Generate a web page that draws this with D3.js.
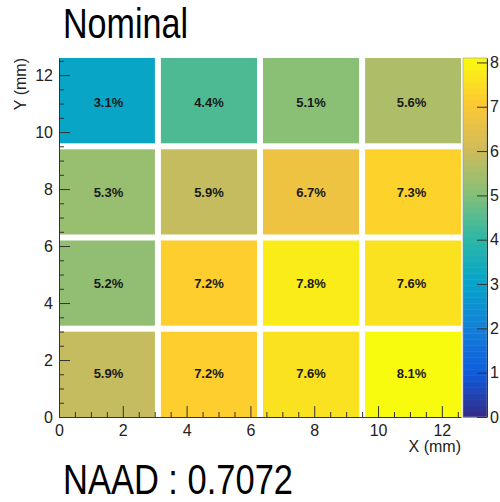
<!DOCTYPE html>
<html>
<head>
<meta charset="utf-8">
<script src="https://cdn.jsdelivr.net/npm/d3@7"></script>
<style>
  body { margin: 0; background: #fff; }
  text { font-family: "Liberation Sans", Arial, sans-serif; }
</style>
</head>
<body>
<div id="chart"></div>
<script>
// bin edges in mm
const xEdges = [0, 3.1, 6.3, 9.5, 12.6];
const yEdges = [0, 3.1, 6.3, 9.5, 12.6];
// rows from bottom to top, columns left to right (%)
const cellValues = [
    [5.9, 7.2, 7.6, 8.1],
    [5.2, 7.2, 7.8, 7.6],
    [5.3, 5.9, 6.7, 7.3],
    [3.1, 4.4, 5.1, 5.6]
];
const axisTicks = [0, 2, 4, 6, 8, 10, 12];
const colorTicks = [0, 1, 2, 3, 4, 5, 6, 7, 8];
const colorMax = 8.1;
const titleText = "Nominal";
const naadText = "NAAD : 0.7072";
const xLabel = "X (mm)";
const yLabel = "Y (mm)";

// ROOT kBird palette
const birdStops = [0.0, 0.125, 0.25, 0.375, 0.5, 0.625, 0.75, 0.875, 1.0];
const birdR = [0.2082, 0.0592, 0.0780, 0.0232, 0.1802, 0.5301, 0.8186, 0.9956, 0.9764];
const birdG = [0.1664, 0.3599, 0.5041, 0.6419, 0.7178, 0.7492, 0.7328, 0.7862, 0.9832];
const birdB = [0.5293, 0.8684, 0.8385, 0.7914, 0.6425, 0.4662, 0.3499, 0.1968, 0.0539];

function drawMap() {
    const W = 500, H = 502;
    const plot = { left: 59, right: 461, top: 58, bottom: 417 };
    const gap = 3;

    const svg = d3.select("#chart").append("svg")
        .attr("width", W)
        .attr("height", H);

    const x = d3.scaleLinear().domain([0, 12.6]).range([plot.left, plot.right]);
    const y = d3.scaleLinear().domain([0, 12.6]).range([plot.bottom, plot.top]);

    const color = d3.scaleLinear()
        .domain(birdStops.map(s => s * colorMax))
        .range(birdStops.map((s, i) => d3.rgb(birdR[i] * 255, birdG[i] * 255, birdB[i] * 255)))
        .clamp(true);

    const cells = cellValues.flatMap((row, j) => row.map((v, i) => ({
        value: v,
        x0: xEdges[i], x1: xEdges[i + 1],
        y0: yEdges[j], y1: yEdges[j + 1],
        first: i === 0, last: i === row.length - 1,
        bottom: j === 0, top: j === cellValues.length - 1
    })));

    const cell = svg.append("g").selectAll("g")
        .data(cells)
        .enter()
        .append("g");

    cell.append("rect")
        .attr("x", d => x(d.x0) + (d.first ? 0 : gap))
        .attr("width", d => x(d.x1) - x(d.x0) - (d.first ? 0 : gap) - (d.last ? 0 : gap))
        .attr("y", d => y(d.y1) + (d.top ? 0 : gap))
        .attr("height", d => y(d.y0) - y(d.y1) - (d.top ? 0 : gap) - (d.bottom ? 0 : gap))
        .attr("fill", d => color(d.value));

    cell.append("text")
        .attr("x", d => (x(d.x0) + x(d.x1)) / 2)
        .attr("y", d => (y(d.y0) + y(d.y1)) / 2)
        .attr("dy", "0.36em")
        .attr("text-anchor", "middle")
        .style("font-size", "13px")
        .style("font-weight", "bold")
        .style("fill", "#1a1a1a")
        .text(d => d.value.toFixed(1) + "%");

    // axes, ticks pointing inward
    const minorTicks = d3.range(0, 12.6, 0.5).filter(t => !axisTicks.includes(t));

    const xAxis = svg.append("g").attr("transform", `translate(0,${plot.bottom})`);
    xAxis.call(d3.axisBottom(x).tickValues(axisTicks).tickSizeInner(-11).tickSizeOuter(0).tickPadding(8));
    xAxis.append("g").call(d3.axisBottom(x).tickValues(minorTicks).tickSizeInner(-5).tickSizeOuter(0).tickFormat(""))
        .select(".domain").remove();

    const yAxis = svg.append("g").attr("transform", `translate(${plot.left},0)`);
    yAxis.call(d3.axisLeft(y).tickValues(axisTicks).tickSizeInner(-11).tickSizeOuter(0).tickPadding(6));
    yAxis.append("g").call(d3.axisLeft(y).tickValues(minorTicks).tickSizeInner(-5).tickSizeOuter(0).tickFormat(""))
        .select(".domain").remove();

    svg.selectAll(".domain").attr("stroke", "#333");
    svg.selectAll(".tick line").attr("stroke", "#333");
    svg.selectAll(".tick text")
        .style("font-family", "'Liberation Sans', Arial, sans-serif")
        .style("font-size", "16px")
        .style("fill", "#222");

    svg.append("text")
        .attr("x", plot.right)
        .attr("y", 452)
        .attr("text-anchor", "end")
        .style("font-size", "16px")
        .style("fill", "#222")
        .text(xLabel);

    svg.append("text")
        .attr("transform", `translate(26,${plot.top}) rotate(-90)`)
        .attr("text-anchor", "end")
        .style("font-size", "16px")
        .style("fill", "#222")
        .text(yLabel);

    // color bar
    const bar = { left: 463, right: 487 };
    const z = d3.scaleLinear().domain([0, colorMax]).range([plot.bottom, plot.top]);
    const bands = 60;
    const bandStep = colorMax / bands;

    svg.append("g").selectAll("rect")
        .data(d3.range(bands))
        .enter()
        .append("rect")
        .attr("x", bar.left)
        .attr("width", bar.right - bar.left)
        .attr("y", i => z((i + 1) * bandStep))
        .attr("height", i => z(i * bandStep) - z((i + 1) * bandStep) + 0.5)
        .attr("fill", i => color((i + 0.5) * bandStep));

    svg.append("rect")
        .attr("x", bar.left)
        .attr("y", plot.top)
        .attr("width", bar.right - bar.left)
        .attr("height", plot.bottom - plot.top)
        .attr("fill", "none")
        .attr("stroke", "#999")
        .attr("stroke-width", 0.6);

    const zAxis = svg.append("g").attr("transform", `translate(${bar.right},0)`);
    zAxis.call(d3.axisRight(z).tickValues(colorTicks).tickSizeInner(-10).tickSizeOuter(0).tickPadding(3));
    zAxis.select(".domain").attr("stroke", "#333");
    zAxis.selectAll(".tick line").attr("stroke", "#333");
    zAxis.selectAll(".tick text")
        .style("font-family", "'Liberation Sans', Arial, sans-serif")
        .style("font-size", "16px")
        .style("fill", "#222");

    // title and NAAD, narrow face squeezed to the reference width
    svg.append("text")
        .attr("x", 63)
        .attr("y", 38)
        .attr("textLength", 125)
        .attr("lengthAdjust", "spacingAndGlyphs")
        .style("font-size", "42px")
        .style("fill", "#000")
        .text(titleText);

    svg.append("text")
        .attr("x", 63)
        .attr("y", 494)
        .attr("textLength", 230)
        .attr("lengthAdjust", "spacingAndGlyphs")
        .style("font-size", "42px")
        .style("fill", "#000")
        .text(naadText);
}

window.addEventListener("load", drawMap);
</script>
</body>
</html>
